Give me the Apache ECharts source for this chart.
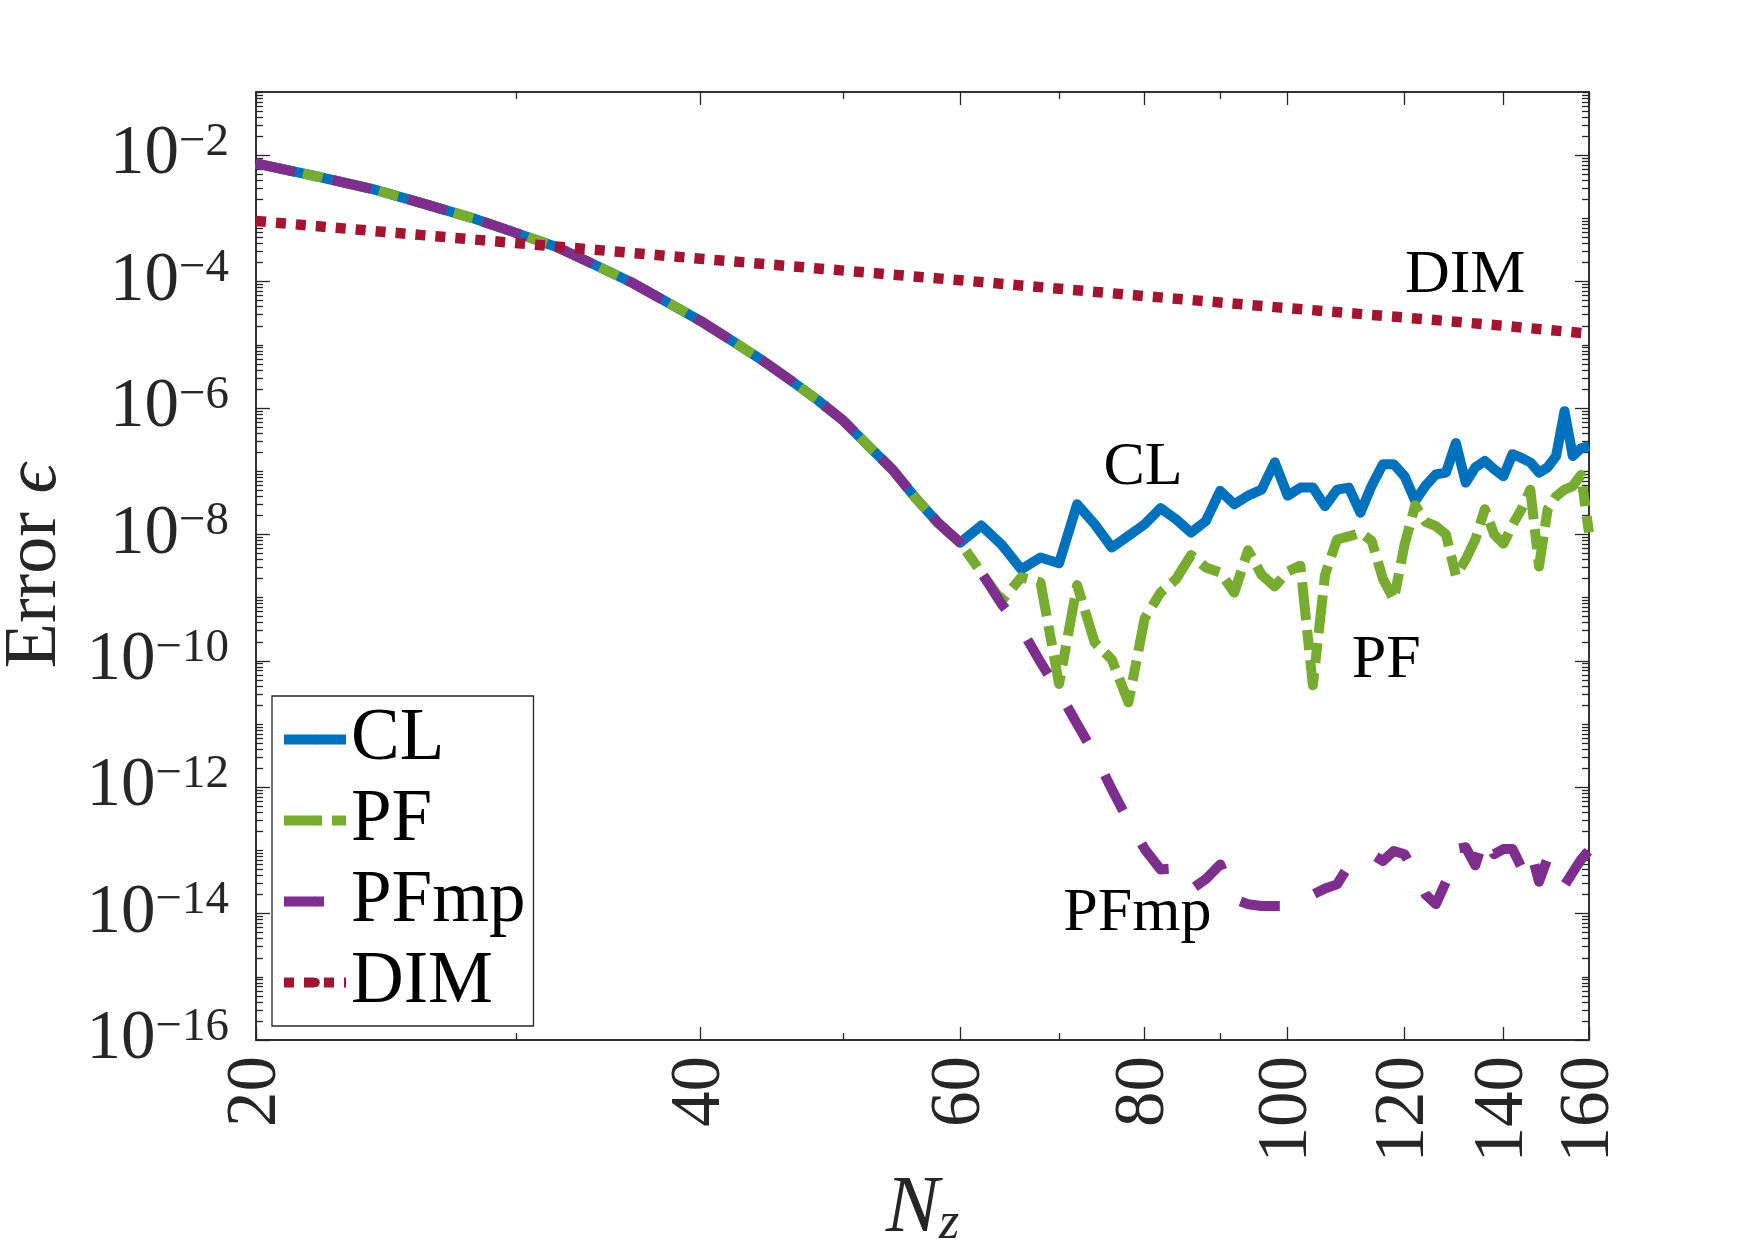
<!DOCTYPE html>
<html>
<head>
<meta charset="utf-8">
<title>Error vs Nz</title>
<script src="https://cdn.jsdelivr.net/npm/echarts@6/dist/echarts.min.js"></script>
<style>
  html, body { margin: 0; padding: 0; background: #fff; }
  #chart { width: 1755px; height: 1240px; }
</style>
</head>
<body>
<div id="chart"></div>
<script>
'use strict';

// grid sizes N_z (every even value)
var nValues = [20, 22, 24, 26, 28, 30, 32, 34, 36, 38, 40, 42, 44, 46, 48, 50, 52, 54, 56, 58, 60,
  62, 64, 66, 68, 70, 72, 74, 76, 78, 80, 82, 84, 86, 88, 90, 92, 94, 96, 98, 100,
  102, 104, 106, 108, 110, 112, 114, 116, 118, 120, 122, 124, 126, 128, 130, 132, 134, 136, 138, 140,
  142, 144, 146, 148, 150, 152, 154, 156, 158, 160];

// N = 20..60 : CL, PF and PFmp are on top of each other
var sharedErr = [7.4e-3, 4.6e-3, 2.9e-3, 1.7e-3, 1.02e-3, 5.9e-4, 3.5e-4, 1.8e-4, 9.5e-5, 4.7e-5,
  2.4e-5, 1.17e-5, 5.8e-6, 2.8e-6, 1.35e-6, 6.3e-7, 2.5e-7, 1.05e-7, 3.7e-8, 1.5e-8, 7.4e-9];

// N = 62..160
var clTail = [1.38e-8, 6.9e-9, 2.8e-9, 4.3e-9, 3.5e-9, 3.0e-8, 1.45e-8, 6.2e-9, 9.5e-9, 1.45e-8,
  2.6e-8, 1.74e-8, 1.07e-8, 1.62e-8, 4.9e-8, 3.0e-8, 4.1e-8, 5.1e-8, 1.38e-7, 4.1e-8,
  5.5e-8, 5.5e-8, 2.8e-8, 5.1e-8, 5.5e-8, 2.2e-8, 5.9e-8, 1.29e-7, 1.29e-7, 8.3e-8,
  3.4e-8, 5.9e-8, 8.9e-8, 9.5e-8, 2.8e-7, 6.6e-8, 1.15e-7, 1.45e-7, 1.07e-7, 8.3e-8,
  1.86e-7, 1.62e-7, 1.38e-7, 9.5e-8, 1.15e-7, 1.74e-7, 8.9e-7, 1.74e-7, 2.3e-7, 2.5e-7];

var pfTail = [2.5e-9, 8.9e-10, 2.1e-9, 1.74e-9, 4.3e-11, 1.58e-9, 1.95e-10, 1.05e-10, 2.2e-11, 4.7e-10,
  1.2e-9, 1.95e-9, 4.7e-9, 3.0e-9, 2.5e-9, 1.2e-9, 5.6e-9, 2.3e-9, 1.5e-9, 2.6e-9,
  3.2e-9, 4.1e-11, 2.3e-9, 8.3e-9, 9.3e-9, 1.07e-8, 7.9e-9, 2.0e-9, 9.3e-10, 6.9e-9,
  2.9e-8, 1.58e-8, 1.35e-8, 1.0e-8, 2.2e-9, 4.0e-9, 8.3e-9, 2.5e-8, 1.0e-8, 7.1e-9,
  1.41e-8, 2.5e-8, 5.1e-8, 3.1e-9, 2.5e-8, 4.0e-8, 5.1e-8, 5.8e-8, 8.7e-8, 1.07e-8];

var pfmpTail = [2.5e-9, 7.9e-10, 3.2e-10, 9.5e-11, 3.2e-11, 1.0e-11, 3.3e-12, 9.3e-13, 2.9e-13, 1.05e-13,
  5.0e-14, 5.2e-14, 2.4e-14, 3.5e-14, 6.0e-14, 1.7e-14, 1.41e-14, 1.32e-14, 1.32e-14, 1.32e-14,
  1.41e-14, 2.0e-14, 2.5e-14, 2.9e-14, 5.8e-14, 7.9e-14, 8.7e-14, 6.8e-14, 9.8e-14, 8.7e-14,
  4.2e-14, 2.0e-14, 1.41e-14, 3.2e-14, 1.05e-13, 1.12e-13, 5.8e-14, 1.74e-13, 8.7e-14, 1.05e-13,
  1.05e-13, 5.4e-14, 1.05e-13, 3.2e-14, 7.6e-14, 3.5e-14, 2.8e-14, 4.5e-14, 7.1e-14, 1.0e-13];

var dimN = [20, 40, 60, 80, 100, 120, 140, 160];
var dimErr = [9.1e-4, 2.3e-4, 1.05e-4, 5.9e-5, 3.8e-5, 2.7e-5, 2.0e-5, 1.5e-5];

// tick labels
var xLabelTicks = [20, 40, 60, 80, 100, 120, 140, 160];
var xMinorTicks = [30, 50, 70, 90];
var yLabelTicks = [1e-16, 1e-14, 1e-12, 1e-10, 1e-8, 1e-6, 1e-4, 1e-2];

// curve names written inside the plot: [text, N, error]
var notes = [
  ['DIM', 131.9, 1.24e-4],
  ['CL', 79.8, 1.15e-7],
  ['PF', 116.6, 1.0e-10],
  ['PFmp', 79.1, 1.0e-14]
];

var serif = '"Liberation Serif", "DejaVu Serif", serif',
    ink = '#262626';

// minor ticks of the log y axis: every m*10^k that has no label
var yMinorTicks = [];
for (var k = -16; k <= -2; k++) {
  for (var m = 1; m <= 9; m++) {
    if (m === 1 && k % 2 === 0) continue;
    yMinorTicks.push(m * Math.pow(10, k));
  }
}
yMinorTicks.push(0.1);

function pairs(xs, ys) {
  return xs.map(function (x, i) { return [x, ys[i]]; });
}

function noteFor(name) {
  var n = notes.filter(function (r) { return r[0] === name; })[0];
  return {
    silent: true,
    symbol: 'circle',
    symbolSize: 0,
    animation: false,
    label: {
      show: true, position: 'inside', formatter: n[0],
      fontSize: 62, fontFamily: serif, color: '#000'
    },
    data: [{ coord: [n[1], n[2]] }]
  };
}

function lineSeries(name, color, type, width, data) {
  return {
    name: name,
    type: 'line',
    data: data,
    symbol: 'none',
    showSymbol: false,
    clip: true,
    itemStyle: { color: color },
    lineStyle: { color: color, width: width, type: type, cap: 'butt', join: 'round' },
    emphasis: { disabled: true },
    markPoint: noteFor(name)
  };
}

function xAx(position, ticks, len, showLabel) {
  return {
    type: 'log', logBase: 10, min: 20, max: 160,
    position: position,
    axisLine: { show: true, lineStyle: { color: ink, width: 1.5 } },
    axisTick: { show: true, inside: true, length: len, customValues: ticks, lineStyle: { color: ink, width: 1.3 } },
    axisLabel: showLabel ? {
      show: true, customValues: ticks, rotate: 90, margin: 16,
      fontSize: 71, fontFamily: serif, color: ink
    } : { show: false },
    splitLine: { show: false },
    minorTick: { show: false }
  };
}

function yAx(position, ticks, len, showLabel) {
  return {
    type: 'log', logBase: 10, min: 1e-16, max: 1e-1,
    position: position,
    axisLine: { show: true, lineStyle: { color: ink, width: 1.5 } },
    axisTick: { show: true, inside: true, length: len, customValues: ticks, lineStyle: { color: ink, width: 1.3 } },
    axisLabel: showLabel ? {
      show: true, customValues: ticks, margin: 27,
      formatter: function (v) {
        return '{b|10}{s|\u2212' + Math.round(-Math.log10(v)) + '}';
      },
      rich: {
        b: { fontSize: 69, fontFamily: serif, color: ink, lineHeight: 72 },
        s: { fontSize: 47, fontFamily: serif, color: ink, lineHeight: 30, verticalAlign: 'top' }
      }
    } : { show: false },
    splitLine: { show: false },
    minorTick: { show: false }
  };
}

var chart = echarts.init(document.getElementById('chart'), null, { renderer: 'canvas' });

var xBottom = xAx('bottom', xLabelTicks, 13, true);
xBottom.name = '{n|N}{z|z}';
xBottom.nameLocation = 'middle';
xBottom.nameGap = 122;
xBottom.nameTextStyle = {
  rich: {
    n: { fontSize: 80, fontStyle: 'italic', fontFamily: serif, color: ink, lineHeight: 80 },
    z: { fontSize: 52, fontStyle: 'italic', fontFamily: serif, color: ink, lineHeight: 34, verticalAlign: 'bottom' }
  }
};

var yLeft = yAx('left', yLabelTicks, 14, true);
yLeft.name = 'Error {e|\u03F5}';
yLeft.nameLocation = 'middle';
yLeft.nameGap = 183;
yLeft.nameRotate = 90;
yLeft.nameTextStyle = {
  fontSize: 74, fontFamily: serif, color: ink,
  rich: { e: { fontSize: 74, fontStyle: 'italic', fontFamily: serif, color: ink } }
};

var option = {
  animation: false,
  backgroundColor: '#fff',
  grid: { left: 256, top: 92, width: 1333, height: 948, containLabel: false, outerBoundsMode: 'none' },
  // same side twice flips the axis, so the order below gives bottom, top, bottom, top
  xAxis: [
    xBottom,
    xAx('top', xLabelTicks, 13, false),
    xAx('top', xMinorTicks, 7, false),
    xAx('bottom', xMinorTicks, 7, false)
  ],
  yAxis: [
    yLeft,
    yAx('right', yLabelTicks, 14, false),
    yAx('right', yMinorTicks, 7, false),
    yAx('left', yMinorTicks, 7, false)
  ],
  legend: {
    data: ['CL', 'PF', 'PFmp', 'DIM'],
    orient: 'vertical',
    left: 272, top: 696,
    itemWidth: 62, itemHeight: 12, itemGap: 0,
    padding: [3, 8, 3, 7],
    borderColor: ink, borderWidth: 1.3, borderRadius: 0,
    backgroundColor: '#fff',
    selectedMode: false,
    lineStyle: { width: 10 },
    textStyle: { fontSize: 73, fontFamily: serif, color: '#000', lineHeight: 81 }
  },
  series: [
    lineSeries('CL', '#0072BD', 'solid', 10, pairs(nValues, sharedErr.concat(clTail))),
    lineSeries('PF', '#77AC30', [38, 10, 20, 10], 10, pairs(nValues, sharedErr.concat(pfTail))),
    lineSeries('PFmp', '#7E2F8E', [40, 38], 10, pairs(nValues, sharedErr.concat(pfmpTail))),
    lineSeries('DIM', '#A2142F', [10, 10], 10.5, pairs(dimN, dimErr))
  ]
};

chart.setOption(option);
</script>
</body>
</html>
